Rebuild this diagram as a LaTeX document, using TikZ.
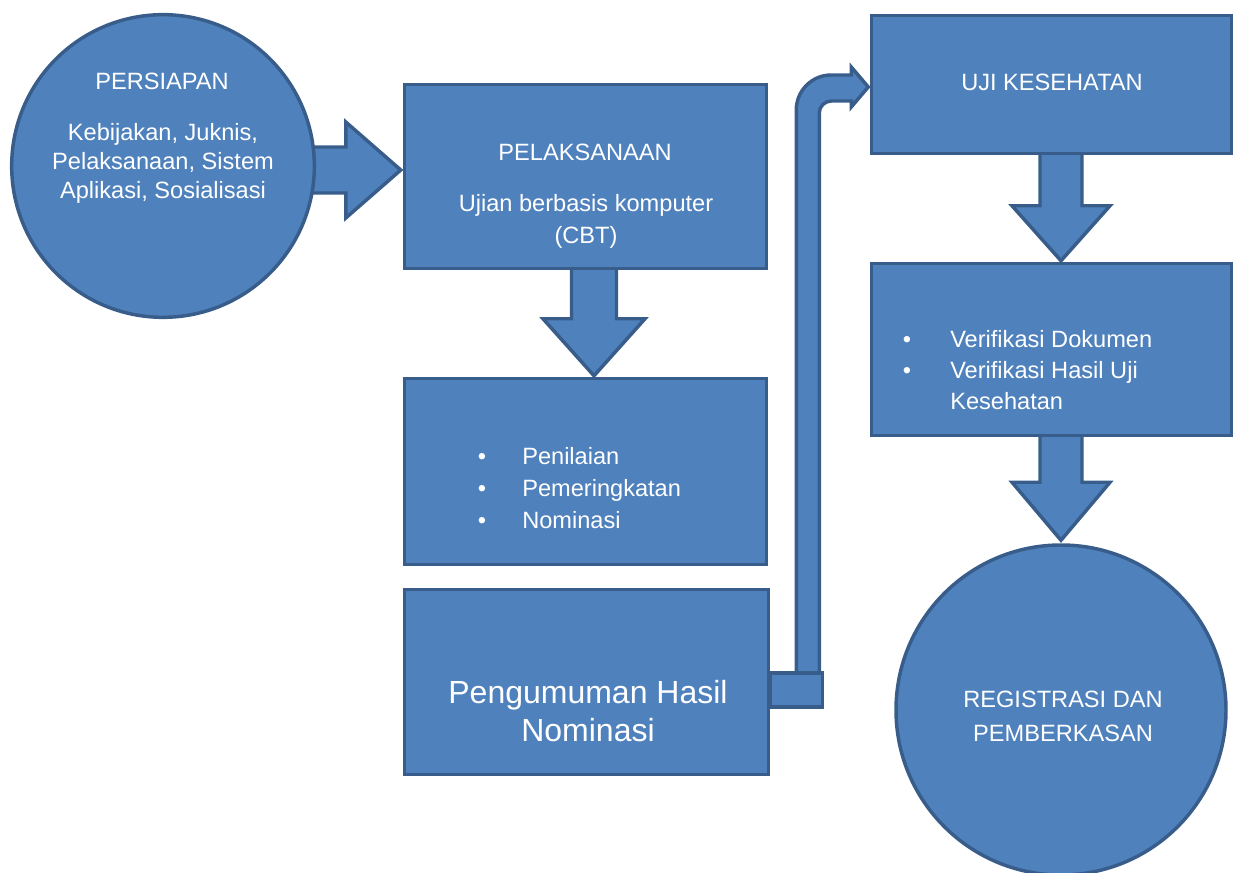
\documentclass[tikz,border=0pt]{standalone}
\usepackage{fontspec}
\setmainfont{Liberation Sans}
\usetikzlibrary{calc,backgrounds}
\definecolor{boxfill}{HTML}{4F81BD}
\definecolor{boxline}{HTML}{385D8A}
\begin{document}
\begin{tikzpicture}[x=0.75pt,y=-0.75pt,
 shapebox/.style={draw=boxline,fill=boxfill,line width=2.6pt,rectangle,inner sep=0pt},
 shapecirc/.style={draw=boxline,fill=boxfill,line width=2.6pt,circle,inner sep=0pt},
 blockarrow/.style={draw=boxline,fill=boxfill,line width=2.6pt,line join=miter},
 txt/.style={text=white,font=\fontsize{17.7}{#1}\selectfont,inner sep=0pt,anchor=base,align=center},
 txt/.default=23,
 ltxt/.style={text=white,font=\fontsize{17.7}{23}\selectfont,inner sep=0pt,anchor=base west},
 ]
\useasboundingbox (0,0) rectangle (1236,873);
\clip (0,0) rectangle (1236,873);
% shapes
\node[shapecirc,minimum size=227pt] (prep) at (163,166) {};
\node[shapebox,minimum width=271.5pt,minimum height=138pt] (pel) at (585.5,176.5) {};
\node[shapebox,minimum width=271.5pt,minimum height=139.5pt] (mid) at (585.5,471.5) {};
\node[shapebox,minimum width=273pt,minimum height=138.75pt] (peng) at (586.5,682) {};
\node[shapebox,minimum width=270pt,minimum height=103.5pt] (uji) at (1051.5,84.5) {};
\node[shapebox,minimum width=270pt,minimum height=129pt] (ver) at (1051.5,349.5) {};
\node[shapecirc,minimum size=247.5pt] (reg) at (1061,710) {};
% block arrows
\begin{pgfonlayer}{background}
\draw[blockarrow] ($(pel.west)+(-2,-6.5)$) -- ++(-55,-48) -- ++(0,25) -- ++(-50,0) -- ++(0,46) -- ++(50,0) -- ++(0,25) -- cycle;
\draw[blockarrow] ($(mid.north)+(8.5,-1)$) -- ++(-51,-57) -- ++(28.5,0) -- ++(0,-58) -- ++(45,0) -- ++(0,58) -- ++(28.5,0) -- cycle;
\draw[blockarrow] ($(ver.north)+(9.5,-1)$) -- ++(-49,-55) -- ++(28,0) -- ++(0,-55) -- ++(42,0) -- ++(0,55) -- ++(28,0) -- cycle;
\draw[blockarrow] ($(reg.north)+(0,-3)$) -- ++(-49,-58) -- ++(28,0) -- ++(0,-53) -- ++(42,0) -- ++(0,53) -- ++(28,0) -- cycle;
\draw[blockarrow] ($(uji.west)+(-1.5,2.5)$) -- ++(-17,-20) -- ++(0,8) -- ++(-20,0) arc(270:180:35) -- ++(0,597) -- ++(23,0) -- ++(0,-594) arc(180:270:12) -- ++(20,0) -- ++(0,6) -- cycle;
\draw[blockarrow] ($(peng.east)+(0,-9)$) rectangle ++(52.5,34);
\end{pgfonlayer}
% texts
\node[txt] (t1) at (162,90) {PERSIAPAN};
\node[txt=21.75] (t2) at (163,199) {Kebijakan, Juknis,\\Pelaksanaan, Sistem\\Aplikasi, Sosialisasi};
\node[txt] (t3) at (585,161) {PELAKSANAAN};
\node[txt=24] (t4) at (586,244) {Ujian berbasis komputer\\(CBT)};
\node[txt] (b1) at (482,465) {•};
\node[txt] (b2) at (482,497) {•};
\node[txt] (b3) at (482,528) {•};
\node[ltxt] (t5) at (522,465) {Penilaian};
\node[ltxt] (t6) at (522,497) {Pemeringkatan};
\node[ltxt] (t7) at (522,528) {Nominasi};
\node[txt,font=\fontsize{24}{28.5}\selectfont] (t8) at (588,741) {Pengumuman Hasil\\Nominasi};
\node[txt] (t9) at (1052,91) {UJI KESEHATAN};
\node[txt] (b4) at (907,348) {•};
\node[txt] (b5) at (907,379) {•};
\node[ltxt] (t10) at (950,348) {Verifikasi Dokumen};
\node[ltxt] (t11) at (950,379) {Verifikasi Hasil Uji};
\node[ltxt] (t12) at (950,410) {Kesehatan};
\node[txt=25.5] (t13) at (1063,741) {REGISTRASI DAN\\PEMBERKASAN};
\end{tikzpicture}
\end{document}
